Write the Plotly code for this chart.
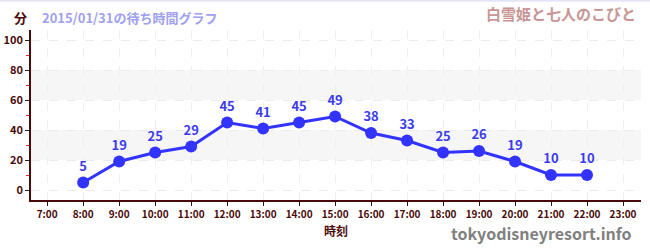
import plotly.graph_objects as go

hours = [8, 9, 10, 11, 12, 13, 14, 15, 16, 17, 18, 19, 20, 21, 22]
waits = [5, 19, 25, 29, 45, 41, 45, 49, 38, 33, 25, 26, 19, 10, 10]
tick_hours = list(range(7, 24))
tick_labels = [f"<b>{h}:00</b>" for h in tick_hours]
y_ticks = [0, 20, 40, 60, 80, 100]
y_labels = [f"<b>{v}</b>" for v in y_ticks]
bands = [(20, 40), (60, 80)]

FONT = "Noto Sans CJK JP"
DARK = "#4a0a0a"

fig = go.Figure()
fig.add_trace(go.Scatter(
    x=hours, y=waits, mode="lines+markers+text",
    text=[str(v) for v in waits], textposition="top center",
    textfont=dict(family=FONT, size=13, color="#3b3bf0", weight="bold"),
    line=dict(color="#3333ff", width=3),
    marker=dict(color="#3333ff", size=12),
    cliponaxis=False, hoverinfo="skip"))

shapes = []
for a, b in bands:
    shapes.append(dict(type="rect", xref="paper", yref="y", x0=0, x1=1, y0=a, y1=b,
                       fillcolor="#f6f6f6", line=dict(width=0), layer="below"))
shapes.append(dict(type="line", xref="paper", yref="paper", x0=-0.06, x1=1.02,
                   y0=1.172, y1=1.172, line=dict(color="#e4e4f8", width=2)))

fig.update_layout(
    width=650, height=250,
    margin=dict(l=31, r=9, t=30, b=50),
    paper_bgcolor="white", plot_bgcolor="white",
    showlegend=False, shapes=shapes,
    font=dict(family=FONT, color=DARK),
    xaxis=dict(range=[6.55, 23.5], tickvals=tick_hours, ticktext=tick_labels,
               tickfont=dict(size=10, color=DARK), ticks="outside", ticklen=4,
               tickcolor=DARK, showline=True, linecolor=DARK, linewidth=1.5,
               showgrid=True, gridcolor="#efefef", griddash="dash", zeroline=False,
               automargin=False,
               title=dict(text="<b>時刻</b>", font=dict(size=12, color=DARK), standoff=8)),
    yaxis=dict(range=[-6.67, 106.67], tickvals=y_ticks, ticktext=y_labels,
               tickfont=dict(size=11, color=DARK), ticks="outside", ticklen=4,
               tickcolor="#222", showline=True, linecolor=DARK, linewidth=1.5,
               showgrid=True, gridcolor="#ebebeb", griddash="dash", zeroline=False,
               automargin=False,
               minor=dict(dtick=10, ticks="outside", ticklen=3, tickcolor="#dd2222",
                          showgrid=False)),
    annotations=[
        dict(text="<b>分</b>", x=29, y=17, xanchor="right", showarrow=False,
             font=dict(size=13, color=DARK)),
        dict(text="<b>2015/01/31の待ち時間グラフ</b>", x=40, y=17, xanchor="left",
             showarrow=False, font=dict(size=13, color="#a0a0f0")),
        dict(text="<b>白雪姫と七人のこびと</b>", x=638, y=14, xanchor="right",
             showarrow=False, font=dict(size=15, color="#c89696")),
        dict(text="<b>tokyodisneyresort.info</b>", x=634, y=233, xanchor="right",
             showarrow=False, font=dict(size=16, color="#808080")),
    ],
)

pw, ph = 650 - 31 - 9, 250 - 30 - 50
for ann in fig.layout.annotations:
    px, py = ann.x, ann.y
    ann.xref = "paper"; ann.yref = "paper"
    ann.x = (px - 31) / pw
    ann.y = (250 - 50 - py) / ph
    ann.yanchor = "middle"

fig.write_html("out.html", config={"displayModeBar": False},
               post_script="document.body.style.margin='0';document.body.style.overflow='hidden';")
